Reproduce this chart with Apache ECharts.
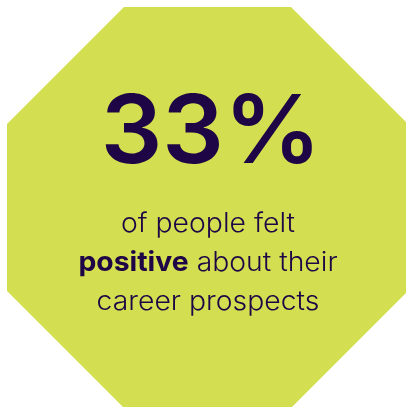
<!DOCTYPE html>
<html><head><meta charset="utf-8">
<script src="https://cdn.jsdelivr.net/npm/echarts@6/dist/echarts.min.js"></script>
<style>html,body{margin:0;padding:0;background:#fff;}#c{width:406px;height:407px;}</style>
</head><body><div id="c"></div>
<script>
const stat = [33];
const captionLines = ['of people felt', 'positive', ' about their', 'career prospects'];
const fillColor = '#d3df50';
const textColor = '#1e0545';

const chart = echarts.init(document.getElementById('c'), null, {renderer: 'canvas'});
const cx = 208;
function cap(y, style) {
  return Object.assign({ type: 'text', x: cx, y: y, scaleX: 1.05, style: style });
}
chart.setOption({
  animation: false,
  graphic: [
    {
      type: 'polygon',
      shape: { points: [[124,7],[291,7],[408,124],[408,291],[291,408],[124,408],[7,291],[7,124]] },
      style: { fill: fillColor }
    },
    {
      type: 'text',
      x: cx + 3, y: 134, scaleX: 1.02,
      style: {
        text: stat[0] + '%',
        font: '600 95px Inter',
        fill: textColor,
        align: 'center',
        verticalAlign: 'middle'
      }
    },
    cap(224, { text: captionLines[0], font: '300 27px Inter', fill: textColor, align: 'center', verticalAlign: 'middle' }),
    cap(263, {
      text: '{b|' + captionLines[1] + '}{r|' + captionLines[2] + '}',
      align: 'center', verticalAlign: 'middle',
      rich: {
        b: { font: '700 27px Inter', fill: textColor },
        r: { font: '300 27px Inter', fill: textColor }
      }
    }),
    cap(302, { text: captionLines[3], font: '300 27px Inter', fill: textColor, align: 'center', verticalAlign: 'middle' })
  ]
});
</script></body></html>
